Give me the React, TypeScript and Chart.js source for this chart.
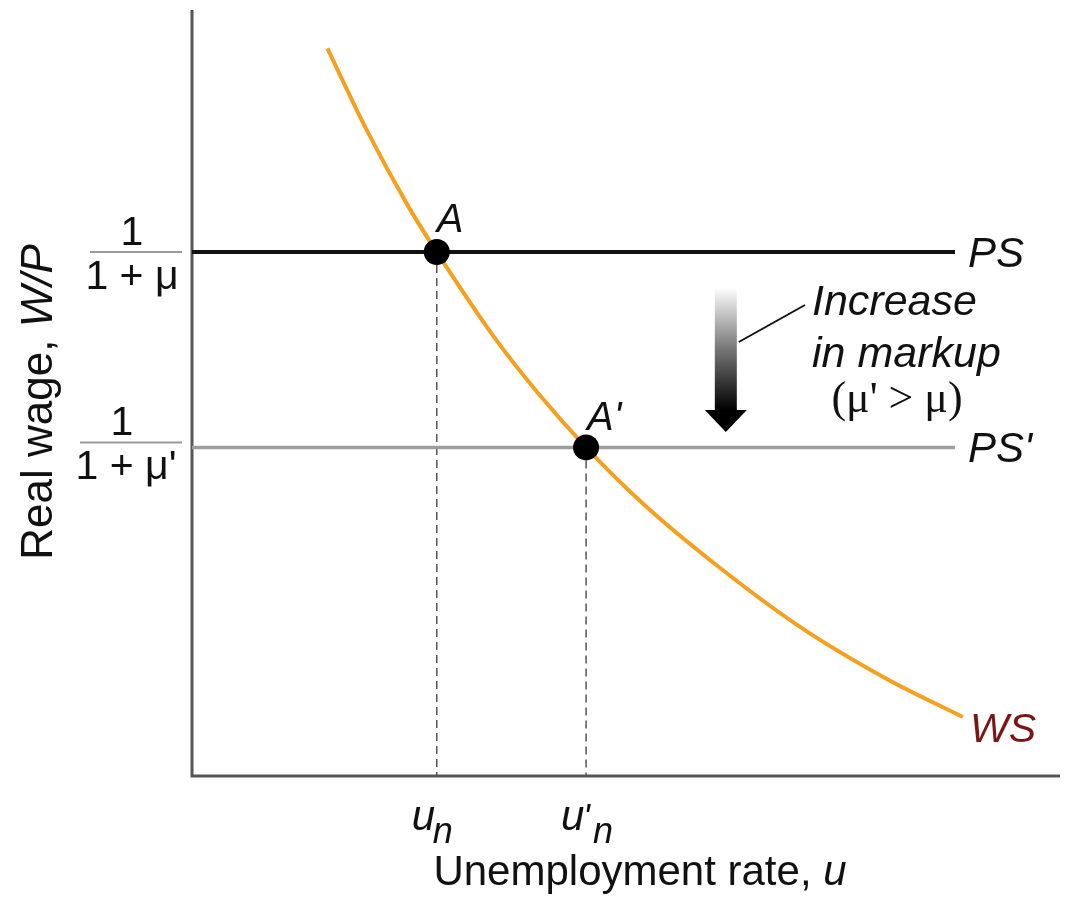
import React, { useEffect, useRef } from "react";
import { Chart, registerables } from "chart.js";

Chart.register(...registerables);

// Wage-setting curve (unemployment rate u, real wage W/P) — abstract units 0..100
const wsU = [15.6, 20.0, 25.0, 28.2, 35.0, 40.0, 45.4, 52.0, 60.0, 70.0, 80.0, 88.8];
const wsW = [95.0, 84.6, 74.2, 68.4, 57.0, 49.8, 42.9, 35.5, 27.9, 19.5, 12.7, 7.7];

// Price-setting levels: PS, PS'
const psLevels = [68.4, 42.9];
const psLabels = ["PS", "PS'"];
const psStartU = 0;
const psEndU = 87.9;

// Equilibria A, A'
const eqU = [28.2, 45.4];
const eqW = [68.4, 42.9];
const eqLabels = ["A", "A'"];

// Tick labels
const yTickNumer = ["1", "1"];
const yTickDenom = ["1 + \u03bc", "1 + \u03bc'"];
const xTickPrime = ["", "'"];

// Arrow annotation (data units)
const arrowU = 61.5;
const arrowTopW = 63.8;
const arrowTipW = 44.9;
const arrowText = ["Increase", "in markup"];
const arrowNote = "(\u03bc' > \u03bc)";

const SANS = "'Liberation Sans', Arial, Helvetica, sans-serif";
const SERIF = "'Liberation Serif', 'Times New Roman', serif";

type Run = { text: string; font: string };

function drawRuns(ctx: CanvasRenderingContext2D, runs: Run[], x: number, y: number, align: "left" | "center") {
  let total = 0;
  const widths = runs.map((r) => {
    ctx.font = r.font;
    const w = ctx.measureText(r.text).width;
    total += w;
    return w;
  });
  let cx = align === "center" ? x - total / 2 : x;
  ctx.textAlign = "left";
  ctx.textBaseline = "alphabetic";
  runs.forEach((r, i) => {
    ctx.font = r.font;
    ctx.fillText(r.text, cx, y);
    cx += widths[i];
  });
}

const overlay = {
  id: "overlay",
  beforeDatasetsDraw(chart: any) {
    const { ctx, chartArea: a } = chart;
    ctx.save();
    ctx.strokeStyle = "#555";
    ctx.lineWidth = 3;
    ctx.beginPath();
    ctx.moveTo(a.left, a.top);
    ctx.lineTo(a.left, a.bottom);
    ctx.lineTo(a.right, a.bottom);
    ctx.stroke();
    ctx.restore();
  },
  afterDatasetsDraw(chart: any) {
    const { ctx } = chart;
    const xs = chart.scales.x;
    const ys = chart.scales.y;
    ctx.save();
    ctx.fillStyle = "#111";

    // y tick labels (fractions)
    psLevels.forEach((lv, i) => {
      const py = ys.getPixelForValue(lv) - (i === 0 ? 0 : 5);
      const cx = 136;
      ctx.strokeStyle = "#9a9a9a";
      ctx.lineWidth = 2;
      ctx.beginPath();
      ctx.moveTo(i === 0 ? 90 : 80, py);
      ctx.lineTo(182, py);
      ctx.stroke();
      ctx.fillStyle = "#111";
      drawRuns(ctx, [{ text: yTickNumer[i], font: `41px ${SANS}` }], i === 0 ? cx - 4 : cx - 14, py - 7, "center");
      drawRuns(ctx, [{ text: yTickDenom[i], font: `41px ${SANS}` }], i === 0 ? cx - 4 : cx - 10, py + 37, "center");
    });

    // x tick labels u_n, u'_n
    eqU.forEach((u, i) => {
      const px = xs.getPixelForValue(u);
      ctx.fillStyle = "#111";
      ctx.font = `italic 42px ${SANS}`;
      ctx.textAlign = "left";
      ctx.textBaseline = "alphabetic";
      ctx.fillText("u", px - 25, 830);
      let nx = px - 4;
      if (xTickPrime[i]) {
        ctx.font = `italic 36px ${SANS}`;
        ctx.fillText(xTickPrime[i], px - 3, 830);
        nx = px + 7;
      }
      ctx.font = `italic 36px ${SANS}`;
      ctx.fillText("n", nx, 843);
    });

    // Point labels
    eqU.forEach((u, i) => {
      const px = xs.getPixelForValue(u);
      const py = ys.getPixelForValue(eqW[i]);
      ctx.fillStyle = "#111";
      ctx.font = `italic 40px ${SANS}`;
      ctx.textAlign = "left";
      ctx.textBaseline = "alphabetic";
      ctx.fillText(eqLabels[i], px + (i === 0 ? 0 : 1), py - (i === 0 ? 20 : 17));
    });

    // PS labels
    psLevels.forEach((lv, i) => {
      const py = ys.getPixelForValue(lv);
      ctx.fillStyle = "#111";
      ctx.font = `italic 42px ${SANS}`;
      ctx.textAlign = "left";
      ctx.fillText(psLabels[i], 968, py + 15);
    });

    // WS label
    ctx.fillStyle = "#7a1616";
    ctx.font = `italic 41px ${SANS}`;
    ctx.fillText("WS", 970, 742);

    // Arrow
    const ax = xs.getPixelForValue(arrowU);
    const aTop = ys.getPixelForValue(arrowTopW);
    const aTip = ys.getPixelForValue(arrowTipW);
    const headStart = aTip - 22;
    const grad = ctx.createLinearGradient(0, aTop, 0, headStart);
    grad.addColorStop(0, "#ffffff");
    grad.addColorStop(0.5, "#777777");
    grad.addColorStop(1, "#000000");
    ctx.fillStyle = grad;
    ctx.fillRect(ax - 11, aTop, 22, headStart - aTop + 1);
    ctx.fillStyle = "#000";
    ctx.beginPath();
    ctx.moveTo(ax - 21, headStart);
    ctx.lineTo(ax + 21, headStart);
    ctx.lineTo(ax, aTip);
    ctx.closePath();
    ctx.fill();

    // Leader line
    ctx.strokeStyle = "#111";
    ctx.lineWidth = 2;
    ctx.beginPath();
    ctx.moveTo(ax + 13, 342);
    ctx.lineTo(805, 305);
    ctx.stroke();

    // Annotation text
    ctx.fillStyle = "#111";
    ctx.font = `italic 43px ${SANS}`;
    ctx.textAlign = "left";
    ctx.fillText(arrowText[0], 812, 315);
    ctx.fillText(arrowText[1], 812, 367);
    ctx.font = `44px ${SERIF}`;
    ctx.textAlign = "center";
    ctx.fillText(arrowNote, 897, 412);

    // Axis titles
    ctx.fillStyle = "#111";
    drawRuns(
      ctx,
      [
        { text: "Unemployment rate, ", font: `42px ${SANS}` },
        { text: "u", font: `italic 42px ${SANS}` },
      ],
      640,
      885,
      "center"
    );
    ctx.save();
    ctx.translate(52, 402);
    ctx.rotate(-Math.PI / 2);
    drawRuns(
      ctx,
      [
        { text: "Real wage, ", font: `44px ${SANS}` },
        { text: "W/P", font: `italic 44px ${SANS}` },
      ],
      0,
      0,
      "center"
    );
    ctx.restore();

    ctx.restore();
  },
};

export default function App() {
  const ref = useRef<HTMLCanvasElement | null>(null);

  useEffect(() => {
    document.body.style.margin = "0";
    const canvas = ref.current;
    if (!canvas) return;

    const wsData = wsU.map((u, i) => ({ x: u, y: wsW[i] }));
    const pointData = eqU.map((u, i) => ({ x: u, y: eqW[i] }));

    const datasets: any[] = [
      {
        label: "Equilibria",
        data: pointData,
        showLine: false,
        pointRadius: 13,
        pointBackgroundColor: "#000",
        pointBorderWidth: 0,
        pointHoverRadius: 13,
      },
      {
        label: "WS",
        data: wsData,
        showLine: true,
        borderColor: "#f5a01e",
        borderWidth: 4,
        pointRadius: 0,
        cubicInterpolationMode: "monotone",
      },
      {
        label: "PS",
        data: [
          { x: psStartU, y: psLevels[0] },
          { x: psEndU, y: psLevels[0] },
        ],
        showLine: true,
        borderColor: "#111",
        borderWidth: 4,
        pointRadius: 0,
      },
      {
        label: "PS'",
        data: [
          { x: psStartU, y: psLevels[1] },
          { x: psEndU, y: psLevels[1] },
        ],
        showLine: true,
        borderColor: "#9d9d9d",
        borderWidth: 3.5,
        pointRadius: 0,
      },
      ...eqU.map((u, i) => ({
        label: "drop" + i,
        data: [
          { x: u, y: eqW[i] },
          { x: u, y: 0 },
        ],
        showLine: true,
        borderColor: "#555",
        borderWidth: 1.5,
        borderDash: [8, 5],
        pointRadius: 0,
      })),
    ];

    const chart = new Chart(canvas, {
      type: "scatter",
      data: { datasets },
      options: {
        animation: false,
        responsive: false,
        events: [],
        layout: { autoPadding: false, padding: { left: 192, right: 6, top: 10, bottom: 122 } },
        plugins: { legend: { display: false }, tooltip: { enabled: false } },
        scales: {
          x: { type: "linear", min: 0, max: 100, display: false },
          y: { type: "linear", min: 0, max: 100, display: false },
        },
      },
      plugins: [overlay],
    });

    return () => chart.destroy();
  }, []);

  return (
    <div style={{ width: 1066, height: 898, background: "#fff" }}>
      <canvas ref={ref} width={1066} height={898} style={{ display: "block", width: 1066, height: 898 }} />
    </div>
  );
}
